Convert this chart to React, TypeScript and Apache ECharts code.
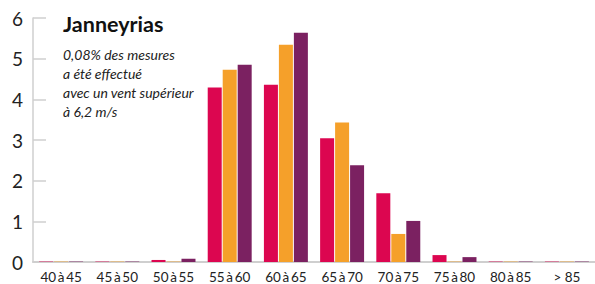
import React, { useEffect, useRef } from "react";
import * as echarts from "echarts";

const categories = ["40\u2009à\u200945", "45\u2009à\u200950", "50\u2009à\u200955", "55\u2009à\u200960", "60\u2009à\u200965", "65\u2009à\u200970", "70\u2009à\u200975", "75\u2009à\u200980", "80\u2009à\u200985", "> 85"];
const seriesRed = [0.01, 0.01, 0.05, 4.29, 4.36, 3.04, 1.69, 0.17, 0.01, 0.01];
const seriesOrange = [0.01, 0.01, 0.01, 4.73, 5.34, 3.43, 0.69, 0.01, 0.01, 0.01];
const seriesPurple = [0.01, 0.01, 0.08, 4.85, 5.64, 2.38, 1.01, 0.12, 0.01, 0.01];
const yTicks = [0, 6, 1];
const title = "Janneyrias";
const noteLines = ["0,08% des mesures", "a été effectué", "avec un vent supérieur", "à 6,2 m/s"];

export default function App() {
  const ref = useRef<HTMLDivElement>(null);
  useEffect(() => {
    if (!ref.current) return;
    const chart = echarts.init(ref.current, null, { renderer: "svg" });
    const mk = (name: string, data: number[], color: string) => ({
      name,
      type: "bar",
      data,
      barWidth: 14,
      barGap: "7%",
      itemStyle: { color },
    });
    chart.setOption({
      animation: false,
      grid: { left: 33, right: -5, top: 18, bottom: 21 },
      xAxis: {
        type: "category",
        data: categories,
        axisLine: { lineStyle: { color: "#cfcfcf", width: 2 } },
        axisTick: { inside: true, length: 6, lineStyle: { color: "#cfcfcf", width: 2 } },
        axisLabel: { interval: 0, color: "#222", fontFamily: "Lato", fontSize: 13.5, margin: 8 },
      },
      yAxis: {
        type: "value",
        min: yTicks[0],
        max: yTicks[1],
        interval: yTicks[2],
        axisLine: { show: true, lineStyle: { color: "#cfcfcf", width: 1.5 } },
        axisTick: { show: true, inside: true, length: 13, lineStyle: { color: "#cfcfcf", width: 1.5 } },
        splitLine: { show: false },
        axisLabel: { color: "#222", fontFamily: "Lato", fontSize: 19, margin: 10 },
      },
      graphic: [
        {
          type: "text",
          left: 63,
          top: 13,
          style: { text: title, font: "bold 21.5px Lato", fill: "#111" },
        },
        {
          type: "text",
          left: 63,
          top: 45,
          style: {
            text: noteLines.join("\n"),
            font: "italic 14px Lato",
            lineHeight: 19,
            fill: "#222",
          },
        },
      ],
      series: [
        mk("a", seriesRed, "#dc0650"),
        mk("b", seriesOrange, "#f5a02a"),
        mk("c", seriesPurple, "#7b2161"),
      ],
    });
    return () => chart.dispose();
  }, []);
  return <div ref={ref} style={{ width: 595, height: 284, position: "absolute", left: 0, top: 0 }} />;
}
